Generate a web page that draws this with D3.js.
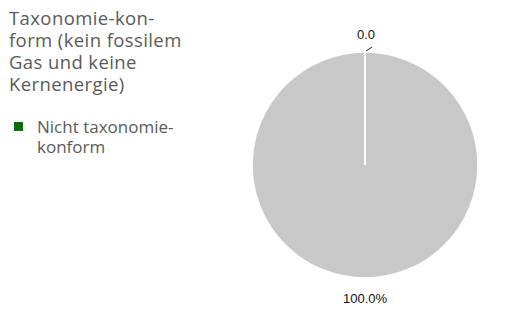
<!DOCTYPE html>
<html>
<head>
<meta charset="utf-8">
<script src="https://cdn.jsdelivr.net/npm/d3@7"></script>
<style>
  html, body { margin: 0; padding: 0; background: #fff; }
  svg { display: block; }
</style>
</head>
<body>
<div id="chart"></div>
<script>
// Kategorien und Werte (Anteile in %)
var categories = ['Taxonomie-konform (kein fossilem Gas und keine Kernenergie)', 'Nicht taxonomie-konform'];
var values = [0.0, 100.0];
var sliceLabels = ['0.0', '100.0%'];
// Legenden-Zeilen (umbrochen wie im Original)
var legendLines = [
  ['Taxonomie-kon-', 'form (kein fossilem', 'Gas und keine', 'Kernenergie)'],
  ['Nicht taxonomie-', 'konform']
];
var legendColors = [null, '#0d6b0d'];

var width = 514, height = 313;
var cx = 365, cy = 165, radius = 113;

var svg = d3.select('#chart').append('svg')
  .attr('width', width)
  .attr('height', height);

var pie = d3.pie().sort(null).value(function (d) { return d; });
var arcs = pie(values);
var arc = d3.arc().innerRadius(0).outerRadius(radius);

var g = svg.append('g').attr('transform', 'translate(' + cx + ',' + cy + ')');

g.selectAll('path.slice')
  .data(arcs)
  .join('path')
    .attr('class', 'slice')
    .attr('d', arc)
    .attr('fill', '#c8c8c8')
    .attr('stroke', '#fff')
    .attr('stroke-width', 1.5)
    .attr('stroke-linejoin', 'round');

// Trennlinien an den Slice-Grenzen (auch bei 0-Werten sichtbar)
g.selectAll('line.sep')
  .data(arcs)
  .join('line')
    .attr('class', 'sep')
    .attr('x1', 0).attr('y1', 0)
    .attr('x2', function (d) { return radius * Math.sin(d.startAngle); })
    .attr('y2', function (d) { return -radius * Math.cos(d.startAngle); })
    .attr('stroke', '#fff')
    .attr('stroke-width', 1.5);

// Beschriftungen: kleine Slices außen mit Führungslinie, große unten
arcs.forEach(function (d, i) {
  if (values[i] < 5) {
    var p0 = d3.arc().innerRadius(radius).outerRadius(radius).centroid(d);
    var p1 = [p0[0] + 7, p0[1] - 5];
    g.append('line')
      .attr('x1', p0[0] + 1).attr('y1', p0[1] - 1)
      .attr('x2', p1[0]).attr('y2', p1[1])
      .attr('stroke', '#222').attr('stroke-width', 1);
    g.append('text')
      .attr('x', p0[0] + 1)
      .attr('y', p0[1] - 13)
      .attr('text-anchor', 'middle')
      .attr('font-family', 'Liberation Sans, Arial, sans-serif')
      .attr('font-size', '13px')
      .attr('fill', '#111')
      .text(sliceLabels[i]);
  } else {
    g.append('text')
      .attr('x', 0)
      .attr('y', radius + 25)
      .attr('text-anchor', 'middle')
      .attr('font-family', 'Liberation Sans, Arial, sans-serif')
      .attr('font-size', '13px')
      .attr('fill', '#111')
      .text(sliceLabels[i]);
  }
});

// Legende
var legend = svg.append('g').attr('class', 'legend');
var legendTop = [25, 133];
legendLines.forEach(function (lines, i) {
  var hasMarker = !!legendColors[i];
  var x = hasMarker ? 37 : 9;
  if (hasMarker) {
    legend.append('rect')
      .attr('x', 14).attr('y', legendTop[i] - 11)
      .attr('width', 9).attr('height', 9)
      .attr('fill', legendColors[i]);
  }
  var t = legend.append('text')
    .attr('font-family', '"Open Sans", sans-serif')
    .attr('font-size', hasMarker ? '17px' : '18.5px')
    .attr('letter-spacing', hasMarker ? '0px' : '0.4px')
    .attr('fill', '#5a5a5a');
  lines.forEach(function (line, j) {
    t.append('tspan')
      .attr('x', x)
      .attr('y', legendTop[i] + j * (hasMarker ? 20 : 22))
      .text(line);
  });
});
</script>
</body>
</html>
